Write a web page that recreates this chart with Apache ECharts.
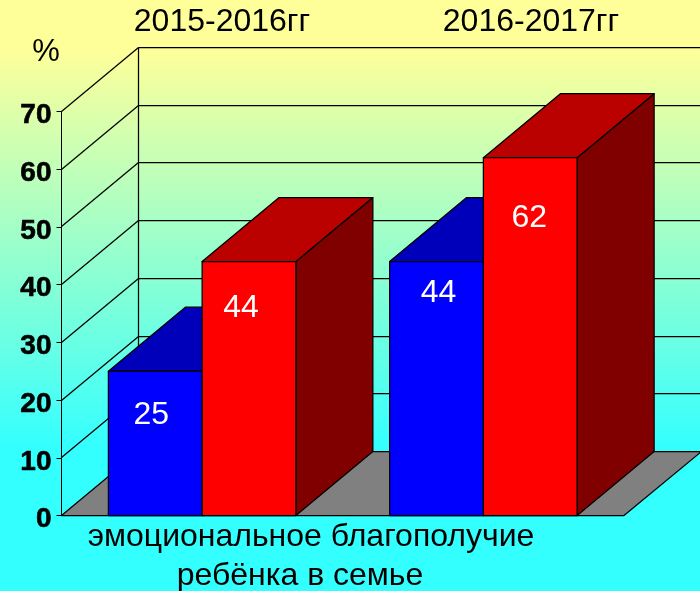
<!DOCTYPE html>
<html>
<head>
<meta charset="utf-8">
<style>html,body{margin:0;padding:0;width:700px;height:591px;overflow:hidden}#c{width:700px;height:591px}</style>
<script src="https://cdn.jsdelivr.net/npm/echarts@6/dist/echarts.min.js"></script>
</head>
<body>
<div id="c"></div>
<script>
const periods = ['2015-2016гг', '2016-2017гг'];
const blueValues = [25, 44];
const redValues = [44, 62];
const yTicks = [0, 10, 20, 30, 40, 50, 60, 70];
const unitLabel = '%';
const captionLine1 = 'эмоциональное благополучие';
const captionLine2 = 'ребёнка в семье';

const FONT = '"Liberation Sans", Arial, sans-serif';
const DX = 77, DY = -64;           // 3D depth of the plot box
const INK = '#000';
const LW = 1.25;
const snap = v => Math.floor(v) + 0.5;

function seg(x1, y1, x2, y2) {
  return { type: 'line', shape: { x1, y1, x2, y2 }, style: { stroke: INK, lineWidth: LW } };
}
function poly(points, fill) {
  return { type: 'polygon', shape: { points }, style: { fill, stroke: INK, lineWidth: LW, lineJoin: 'round' } };
}

function renderFrame(params, api) {
  const g = params.coordSys;
  const x0 = snap(g.x), x1 = g.x + g.width;
  const y = snap(api.coord([0, api.value(1)])[1]);
  const yBack = snap(y + DY), xBack = snap(x0 + DX), xEnd = snap(x1 + DX);
  const children = [];
  if (api.value(1) === 0) {
    children.push(poly([[x0, y], [xBack, yBack], [xEnd, yBack], [x1, y]], '#808080'));
    const top = snap(api.coord([0, yTicks[yTicks.length - 1]])[1] + DY);
    children.push(seg(xBack, top, xBack, yBack), seg(xEnd, top, xEnd, yBack));
  } else {
    children.push(seg(x0, y, xBack, yBack), seg(xBack, yBack, xEnd, yBack));
  }
  return { type: 'group', children };
}

function makeBarRenderer(front, top, side, side_offset, labelOffsets) {
  return function (params, api) {
    const idx = api.value(0), val = api.value(1);
    const c = api.coord([idx, val]);
    const base = api.coord([idx, 0]);
    const bw = api.size([1, 0])[0] / 3;
    const xa = side_offset < 0 ? c[0] - bw : c[0];
    const xb = xa + bw;
    const yt = c[1], yb = base[1];
    const off = labelOffsets[idx];
    return {
      type: 'group',
      children: [
        poly([[xb, yb], [xb + DX, yb + DY], [xb + DX, yt + DY], [xb, yt]], side),
        poly([[xa, yt], [xa + DX, yt + DY], [xb + DX, yt + DY], [xb, yt]], top),
        poly([[xa, yt], [xb, yt], [xb, yb], [xa, yb]], front),
        {
          type: 'text',
          z2: 10,
          style: {
            x: xa + bw / 2 + off[0], y: yt + off[1], text: String(val),
            fill: '#fff', font: '32px ' + FONT, align: 'center', verticalAlign: 'middle'
          }
        }
      ]
    };
  };
}

function label(text, x, y, size) {
  return {
    type: 'text', x, y,
    style: { text, fill: '#000', font: size + 'px ' + FONT, align: 'center', verticalAlign: 'middle' }
  };
}

const chart = echarts.init(document.getElementById('c'), null, { renderer: 'canvas' });
chart.setOption({
  animation: false,
  backgroundColor: {
    type: 'linear', x: 0, y: 0, x2: 0, y2: 1,
    colorStops: [
      { offset: 0, color: '#FFFF99' },
      { offset: 0.08, color: '#FFFF99' },
      { offset: 0.76, color: '#33FFFF' },
      { offset: 1, color: '#33FFFF' }
    ]
  },
  grid: { left: 61.5, top: 111.5, width: 562.5, height: 404, containLabel: false },
  xAxis: {
    type: 'category', data: periods,
    axisLine: { show: true, lineStyle: { color: INK, width: 1 } },
    axisTick: { show: false }, axisLabel: { show: false }, splitLine: { show: false }
  },
  yAxis: {
    type: 'value', min: 0, max: 70, interval: 10,
    axisLine: { show: true, lineStyle: { color: INK, width: 1 } },
    axisTick: { show: true, length: 5, lineStyle: { color: INK, width: 1 } },
    splitLine: { show: false },
    axisLabel: {
      margin: 10, color: '#000', fontFamily: FONT, fontWeight: 'bold', fontSize: 28,
      textBorderColor: '#000', textBorderWidth: 0.6,
      verticalAlign: 'top', lineHeight: 8
    }
  },
  series: [
    {
      type: 'custom', name: 'frame', z: 1, silent: true, clip: false,
      encode: { x: 0, y: 1 },
      data: yTicks.map(t => [0, t]),
      renderItem: renderFrame
    },
    {
      type: 'custom', name: 'blue', z: 2, silent: true, clip: false,
      encode: { x: 0, y: 1 },
      data: blueValues.map((v, i) => [i, v]),
      renderItem: makeBarRenderer('#0000FF', '#0000BB', '#000080', -1, [[-4, 44], [2, 32]])
    },
    {
      type: 'custom', name: 'red', z: 3, silent: true, clip: false,
      encode: { x: 0, y: 1 },
      data: redValues.map((v, i) => [i, v]),
      renderItem: makeBarRenderer('#FF0000', '#BB0000', '#800000', 1, [[-8, 47], [-1, 61]])
    }
  ],
  graphic: [
    label(periods[0], 222, 22, 32),
    label(periods[1], 531, 22, 32),
    label(unitLabel, 46, 52, 31),
    label(captionLine1, 311, 537, 32),
    label(captionLine2, 300, 576, 32)
  ]
});
</script>
</body>
</html>
